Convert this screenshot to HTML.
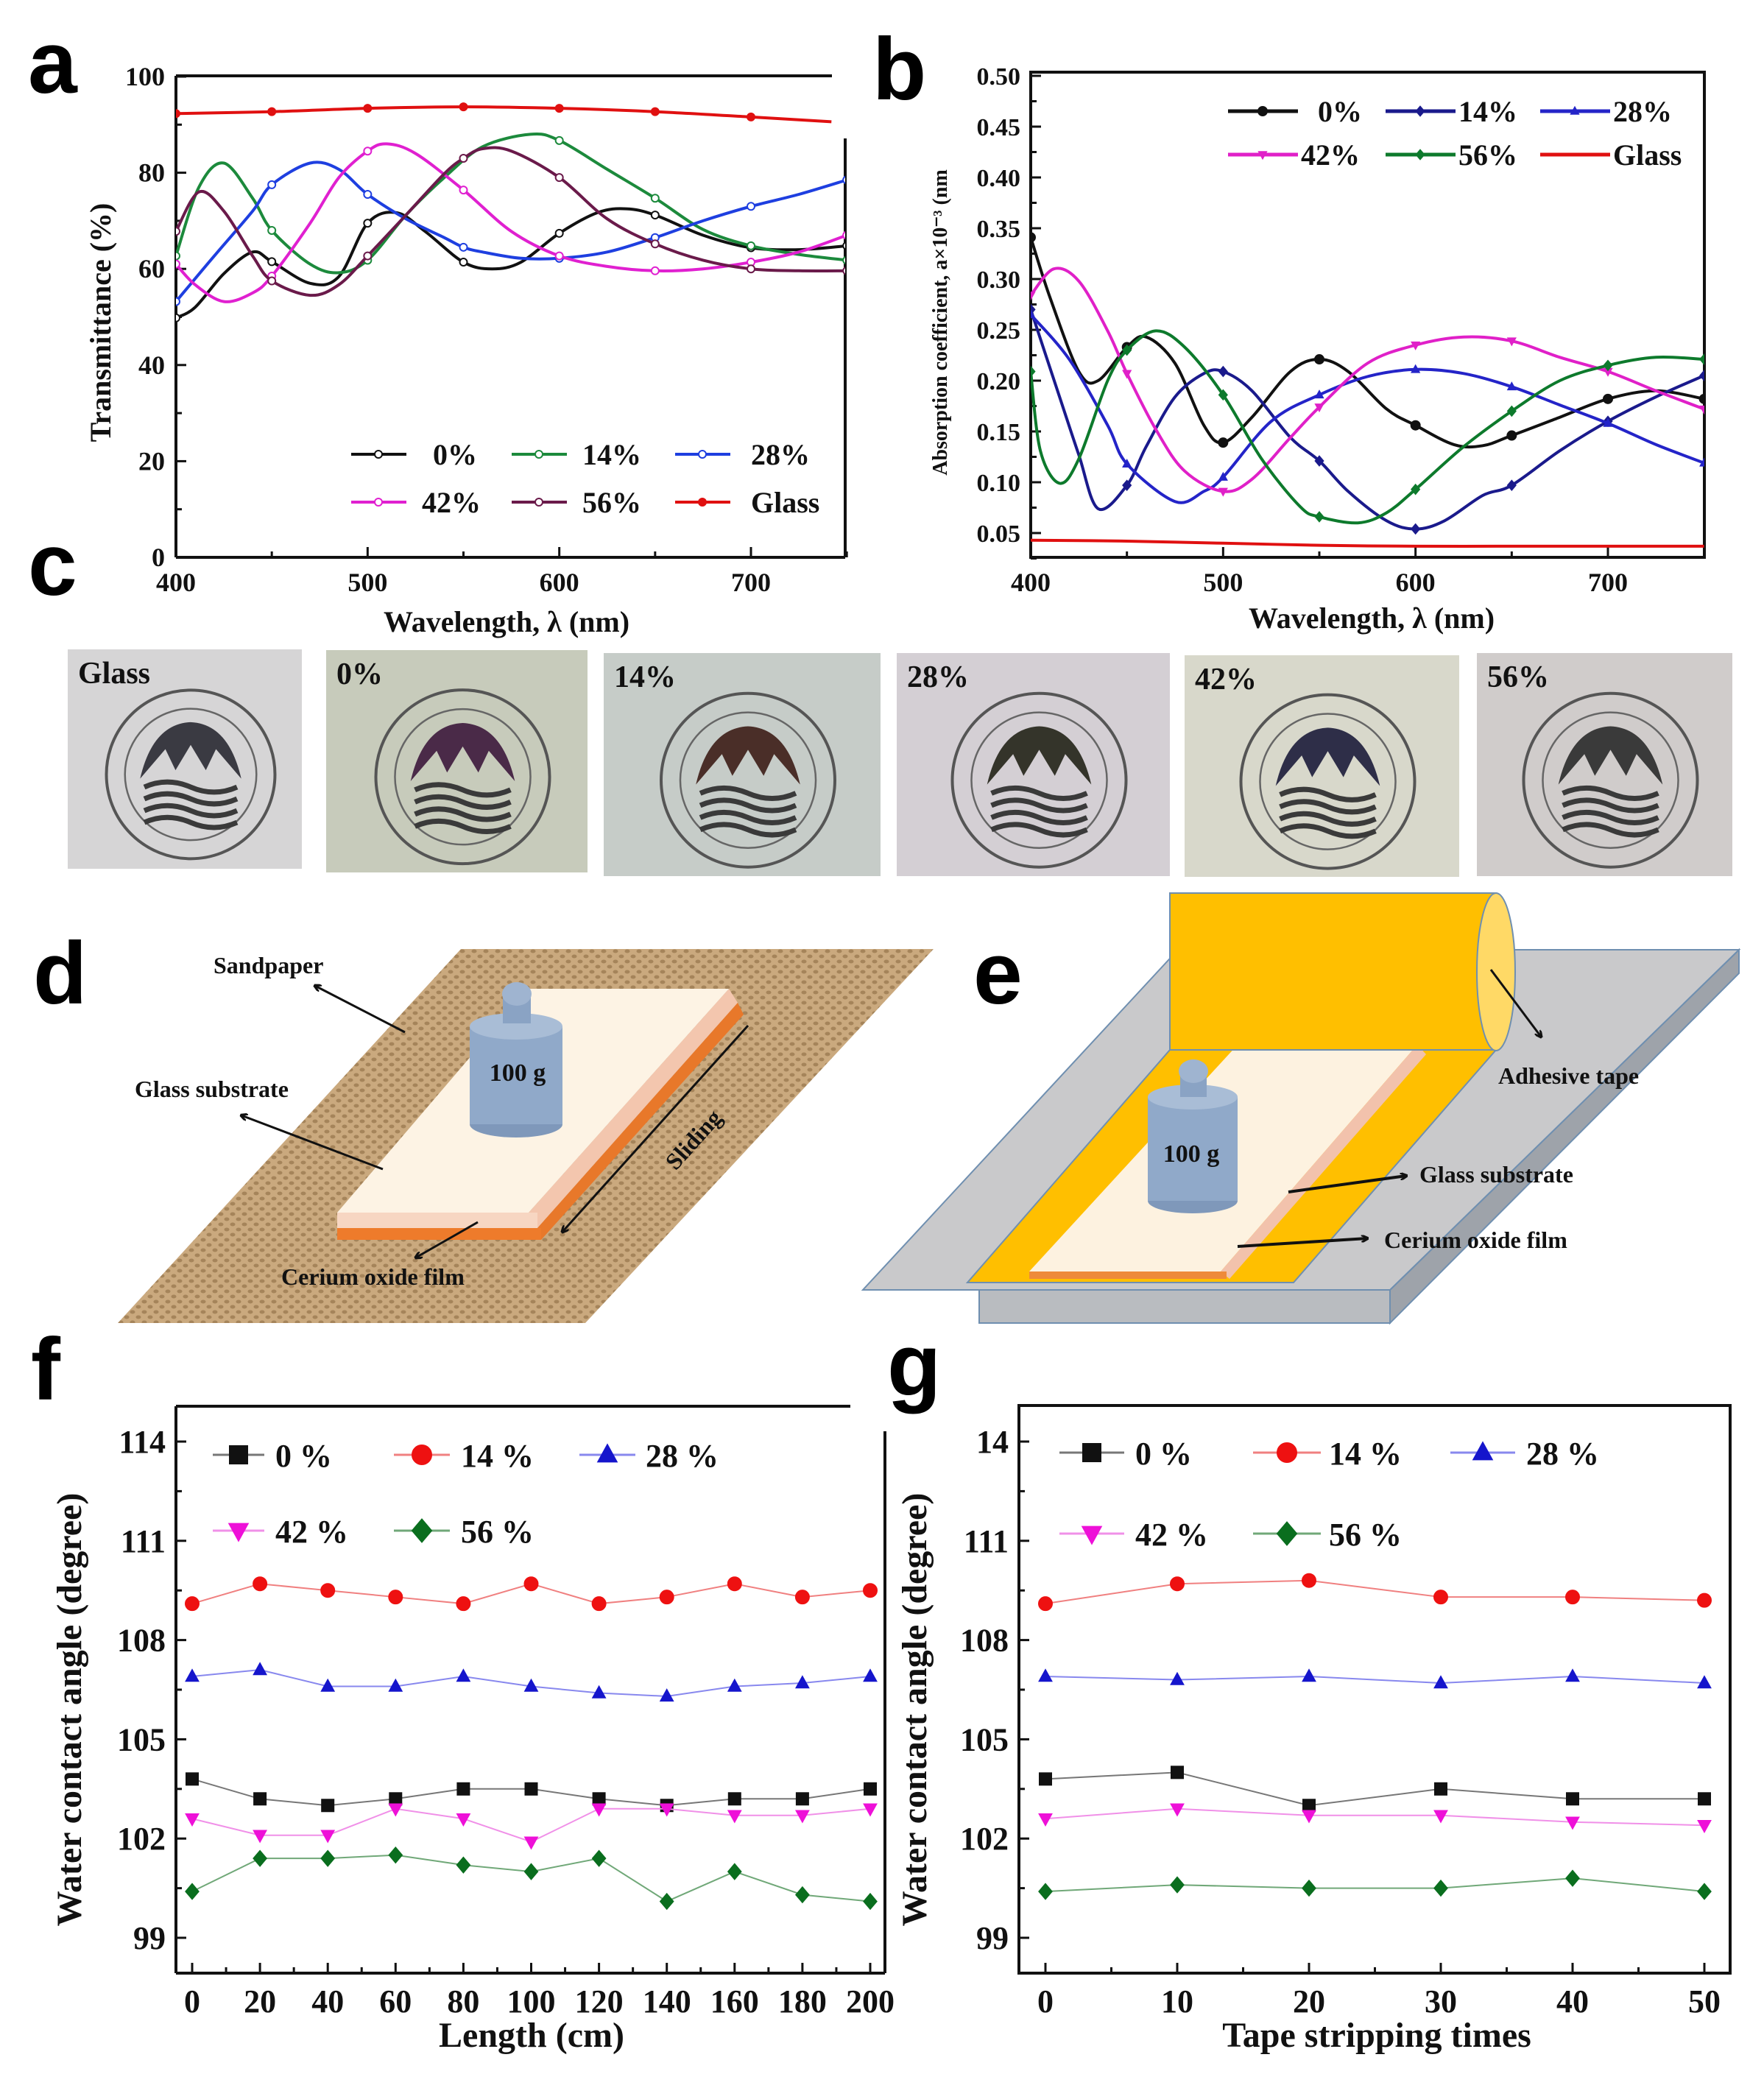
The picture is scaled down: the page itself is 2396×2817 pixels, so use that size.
<!DOCTYPE html>
<html><head><meta charset="utf-8">
<style>
html,body{margin:0;padding:0;background:#fff;}
svg{display:block;}
.pl{font-family:"Liberation Sans",sans-serif;font-size:120px;font-weight:bold;fill:#000;}
.t{font-family:"Liberation Serif",serif;font-weight:bold;fill:#111;}
</style></head>
<body>
<svg id="fig" xmlns="http://www.w3.org/2000/svg" width="2396" height="2817" viewBox="0 0 2396 2817">
<defs>
<pattern id="sand" width="16" height="14" patternUnits="userSpaceOnUse">
<rect width="16" height="14" fill="#caa97e"/>
<ellipse cx="4" cy="4" rx="3.5" ry="2.5" fill="#a5845a"/>
<ellipse cx="12" cy="11" rx="3.5" ry="2.5" fill="#a5845a"/>
</pattern>
<clipPath id="clipA"><rect x="239" y="98" width="909" height="659"/></clipPath>
<clipPath id="clipB"><rect x="1400" y="98" width="915" height="659"/></clipPath>
<marker id="ah" markerWidth="10" markerHeight="10" refX="8" refY="5" orient="auto" markerUnits="userSpaceOnUse"><path d="M0,0 L10,5 L0,10" fill="none" stroke="#111" stroke-width="3"/></marker>
</defs>

<!-- panel letters -->
<text class="pl" x="38" y="126">a</text>
<text class="pl" x="1185" y="135">b</text>
<text class="pl" x="38" y="808">c</text>
<text class="pl" x="45" y="1363">d</text>
<text class="pl" x="1322" y="1363">e</text>
<text class="pl" x="42" y="1901">f</text>
<text class="pl" x="1205" y="1895">g</text>

<g id="photos"></g>

<!-- panel d -->
<g>
<polygon points="626,1289 1268,1289 795,1797 160,1797" fill="url(#sand)"/>
<polygon points="990,1343 1002,1362 730,1668 718,1647" fill="#f3c6ae"/>
<polygon points="1002,1362 1010,1378 735,1684 730,1668" fill="#e8782a"/>
<polygon points="718,1343 990,1343 718,1647 458,1647" fill="#fdf3e4"/>
<rect x="458" y="1647" width="272" height="21" fill="#f7d6c2"/>
<rect x="458" y="1668" width="277" height="16" fill="#ee7b2b"/>
<ellipse cx="701" cy="1527" rx="63" ry="18" fill="#7f98ba"/>
<rect x="638" y="1394" width="126" height="133" fill="#90a9c9"/>
<ellipse cx="701" cy="1394" rx="63" ry="18" fill="#a9bdd6"/>
<rect x="683" y="1350" width="38" height="40" fill="#8aa3c4"/>
<ellipse cx="702" cy="1350" rx="20" ry="16" fill="#9fb4d0"/>
<text class="t" x="703" y="1468" font-size="34" text-anchor="middle">100 g</text>
<line x1="550" y1="1402" x2="428" y2="1339" stroke="#111" stroke-width="3" marker-end="url(#ah)"/>
<line x1="520" y1="1588" x2="328" y2="1515" stroke="#111" stroke-width="3" marker-end="url(#ah)"/>
<line x1="649" y1="1660" x2="565" y2="1708" stroke="#111" stroke-width="3" marker-end="url(#ah)"/>
<line x1="1016" y1="1393" x2="764" y2="1673" stroke="#111" stroke-width="3" marker-end="url(#ah)"/>
<text class="t" x="290" y="1322" font-size="32">Sandpaper</text>
<text class="t" x="183" y="1490" font-size="32">Glass substrate</text>
<text class="t" x="382" y="1745" font-size="32">Cerium oxide film</text>
<text class="t" x="0" y="0" font-size="32" transform="translate(950,1555) rotate(-48)" text-anchor="middle">Sliding</text>
</g>

<!-- panel e -->
<g>
<polygon points="2362,1290 2362,1322 1888,1797 1888,1752" fill="#9ea3aa" stroke="#6f8fb0" stroke-width="2"/>
<rect x="1330" y="1752" width="558" height="45" fill="#b9bcc0" stroke="#6f8fb0" stroke-width="2"/>
<polygon points="1600,1290 2362,1290 1888,1752 1172,1752" fill="#c9c9cb" stroke="#6f8fb0" stroke-width="2"/>
<polygon points="1589,1426 2032,1426 1757,1742 1314,1742" fill="#ffbf00" stroke="#6f8fb0" stroke-width="2"/>
<polygon points="1681,1419 1925,1419 1658,1727 1398,1727" fill="#fdf2e0"/>
<polygon points="1925,1419 1937,1432 1670,1737 1658,1727" fill="#f2c2ac"/>
<rect x="1398" y="1727" width="268" height="10" fill="#ee8a3a"/>
<rect x="1589" y="1213" width="443" height="213" fill="#ffbf00" stroke="#6f8fb0" stroke-width="2"/>
<ellipse cx="2032" cy="1320" rx="26" ry="107" fill="#ffd966" stroke="#6f8fb0" stroke-width="2"/>
<ellipse cx="1620" cy="1631" rx="61" ry="17" fill="#7f98ba"/>
<rect x="1559" y="1490" width="122" height="141" fill="#90a9c9"/>
<ellipse cx="1620" cy="1490" rx="61" ry="17" fill="#a9bdd6"/>
<rect x="1603" y="1455" width="36" height="35" fill="#8aa3c4"/>
<ellipse cx="1621" cy="1455" rx="20" ry="16" fill="#9fb4d0"/>
<text class="t" x="1618" y="1578" font-size="34" text-anchor="middle">100 g</text>
<line x1="2025" y1="1317" x2="2093" y2="1408" stroke="#111" stroke-width="3" marker-end="url(#ah)"/>
<line x1="1750" y1="1619" x2="1910" y2="1597" stroke="#111" stroke-width="4" marker-end="url(#ah)"/>
<line x1="1681" y1="1693" x2="1857" y2="1682" stroke="#111" stroke-width="4" marker-end="url(#ah)"/>
<text class="t" x="2035" y="1472" font-size="32">Adhesive tape</text>
<text class="t" x="1928" y="1606" font-size="32">Glass substrate</text>
<text class="t" x="1880" y="1695" font-size="32">Cerium oxide film</text>
</g>

<g id="chartA"></g>
<g id="chartB"></g>
<g id="chartF"></g>
<g id="chartG"></g>
</svg>

<script>
// ---------- Panel a data ----------
const a0x=[400,410,425,440,450,470,485,500,515,530,550,565,580,600,620,635,650,675,700,725,750];
const a0y=[49.8,52,59,63.5,61.5,57,58.4,69.5,71.7,67.8,61.4,60,61.4,67.4,71.7,72.5,71.2,67,64.4,64,64.8];
const a14x=[400,412,425,440,450,470,485,500,520,540,560,585,600,625,650,675,700,725,750];
const a14y=[62.7,77,82,74.7,68,61,59.2,61.8,71.2,79,85.4,88,86.7,80.7,74.7,68.2,64.8,63,61.8];
const a28x=[400,420,440,450,470,485,500,520,540,550,560,580,600,625,650,675,700,725,750];
const a28y=[53.2,62.7,72,77.5,82,80.7,75.5,70.4,66.5,64.5,63.5,62.2,62.2,63.5,66.5,70,73,75.5,78.5];
const a42x=[400,410,425,440,450,470,485,500,510,525,550,575,600,625,650,675,700,725,750];
const a42y=[61,56.7,53.2,55,58.5,69.5,79,84.5,86,84,76.4,67.8,62.7,60.5,59.6,60,61.4,63.5,67];
const a56x=[400,412,425,440,450,470,485,500,520,540,550,560,575,600,625,650,675,700,725,750];
const a56y=[67.8,76,72,62.7,57.5,54.5,56.7,62.7,71.2,79.8,83,85,84.5,79,70.4,65.2,61.8,60,59.6,59.6];
const aGx=[400,450,500,550,600,650,700,742];
const aGy=[92.3,92.7,93.4,93.7,93.4,92.7,91.6,90.6];
const aYTicks=[0,20,40,60,80,100];
const aXTicks=[400,500,600,700];
// ---------- Panel b data ----------
const b0x=[400,410,425,435,450,460,475,490,500,515,535,550,565,585,600,620,635,650,675,700,725,750];
const b0y=[0.341,0.282,0.209,0.200,0.233,0.243,0.217,0.156,0.139,0.164,0.209,0.221,0.209,0.172,0.156,0.137,0.136,0.146,0.164,0.182,0.190,0.182];
const b14x=[400,415,425,435,450,460,475,490,500,515,535,550,565,585,600,615,635,650,675,700,725,750];
const b14y=[0.270,0.184,0.127,0.074,0.097,0.135,0.184,0.207,0.209,0.190,0.144,0.121,0.091,0.062,0.054,0.062,0.087,0.097,0.131,0.160,0.184,0.205];
const b28x=[400,420,440,450,475,490,500,525,550,575,600,625,650,675,700,725,750];
const b28y=[0.265,0.221,0.156,0.118,0.081,0.091,0.105,0.160,0.186,0.204,0.211,0.207,0.194,0.176,0.158,0.137,0.119];
const b42x=[400,412,425,440,450,465,480,500,515,535,550,575,600,625,650,675,700,725,750];
const b42y=[0.284,0.310,0.298,0.249,0.207,0.152,0.111,0.091,0.103,0.144,0.174,0.217,0.235,0.243,0.239,0.223,0.209,0.190,0.172];
const b56x=[400,405,415,425,440,450,465,480,500,520,540,550,570,585,600,625,650,675,700,725,750];
const b56y=[0.209,0.131,0.099,0.123,0.200,0.230,0.249,0.233,0.186,0.123,0.076,0.066,0.060,0.070,0.093,0.135,0.170,0.200,0.215,0.223,0.221];
const bGx=[400,450,500,550,600,650,700,750];
const bGy=[0.043,0.042,0.040,0.038,0.037,0.037,0.037,0.037];
const bYTicks=[0.05,0.10,0.15,0.20,0.25,0.30,0.35,0.40,0.45,0.50];
const bXTicks=[400,500,600,700];
// ---------- Panel f data ----------
const fX=[0,20,40,60,80,100,120,140,160,180,200];
const f0=[103.8,103.2,103.0,103.2,103.5,103.5,103.2,103.0,103.2,103.2,103.5];
const f14=[109.1,109.7,109.5,109.3,109.1,109.7,109.1,109.3,109.7,109.3,109.5];
const f28=[106.9,107.1,106.6,106.6,106.9,106.6,106.4,106.3,106.6,106.7,106.9];
const f42=[102.6,102.1,102.1,102.9,102.6,101.9,102.9,102.9,102.7,102.7,102.9];
const f56=[100.4,101.4,101.4,101.5,101.2,101.0,101.4,100.1,101.0,100.3,100.1];
// ---------- Panel g data ----------
const gX=[0,10,20,30,40,50];
const g0=[103.8,104.0,103.0,103.5,103.2,103.2];
const g14=[109.1,109.7,109.8,109.3,109.3,109.2];
const g28=[106.9,106.8,106.9,106.7,106.9,106.7];
const g42=[102.6,102.9,102.7,102.7,102.5,102.4];
const g56=[100.4,100.6,100.5,100.5,100.8,100.4];
const wcaYTicks=[99,102,105,108,111,114];
const wcaYLabels=['99','102','105','108','111','114'];

const NS='http://www.w3.org/2000/svg';
function mk(tag,attrs,parent,name){
  const e=document.createElementNS(NS,tag);
  for(const k in attrs) e.setAttribute(k,attrs[k]);
  
  
  parent.appendChild(e);
  return e;
}
function scale(p0,p1,d0,d1){return v=>p0+(v-d0)*(p1-p0)/(d1-d0);}
function smooth(pts){
  let d='M'+pts[0][0].toFixed(1)+','+pts[0][1].toFixed(1);
  for(let i=0;i<pts.length-1;i++){
    const p0=pts[Math.max(0,i-1)],p1=pts[i],p2=pts[i+1],p3=pts[Math.min(pts.length-1,i+2)];
    const c1=[p1[0]+(p2[0]-p0[0])/6,p1[1]+(p2[1]-p0[1])/6];
    const c2=[p2[0]-(p3[0]-p1[0])/6,p2[1]-(p3[1]-p1[1])/6];
    d+=' C'+c1[0].toFixed(1)+','+c1[1].toFixed(1)+' '+c2[0].toFixed(1)+','+c2[1].toFixed(1)+' '+p2[0].toFixed(1)+','+p2[1].toFixed(1);
  }
  return d;
}
function txt(parent,x,y,s,size,anchor,name,extra){
  const t=mk('text',Object.assign({x:x,y:y,'font-size':size,'text-anchor':anchor||'start',class:'t'},extra||{}),parent,name);
  t.textContent=s;return t;
}
function marker(g,shape,x,y,r,fill,stroke,name){
  if(shape==='circle') return mk('circle',{cx:x,cy:y,r:r,fill:fill,stroke:stroke,'stroke-width':2},g,name);
  if(shape==='square') return mk('rect',{x:x-r,y:y-r,width:2*r,height:2*r,fill:fill},g,name);
  if(shape==='up') return mk('polygon',{points:`${x},${y-r*1.2} ${x+r*1.1},${y+r*0.8} ${x-r*1.1},${y+r*0.8}`,fill:fill},g,name);
  if(shape==='down') return mk('polygon',{points:`${x},${y+r*1.2} ${x+r*1.1},${y-r*0.8} ${x-r*1.1},${y-r*0.8}`,fill:fill},g,name);
  if(shape==='diamond') return mk('polygon',{points:`${x},${y-r*1.3} ${x+r*1.1},${y} ${x},${y+r*1.3} ${x-r*1.1},${y}`,fill:fill},g,name);
}

// ---------- Panel A ----------
(function(){
  const g=document.getElementById('chartA');
  const X=scale(239,1020,400,700), Y=scale(757,104,0,100);
  mk('line',{x1:239,y1:757,x2:1148,y2:757,stroke:'#111','stroke-width':4},g,'x-axis');
  mk('line',{x1:239,y1:103,x2:239,y2:757,stroke:'#111','stroke-width':4},g,'y-axis');
  mk('line',{x1:239,y1:103,x2:1130,y2:103,stroke:'#111','stroke-width':4},g,'top-frame');
  mk('line',{x1:1148,y1:188,x2:1148,y2:757,stroke:'#111','stroke-width':4},g,'right-frame');
  for(let v=0;v<=100;v+=10){const y=Y(v);mk('line',{x1:239,y1:y,x2:239+(v%20?8:14),y2:y,stroke:'#111','stroke-width':3},g,'y-tick');}
  aYTicks.forEach(v=>txt(g,224,Y(v)+12,String(v),36,'end','y-tick-label'));
  for(let v=400;v<=750;v+=50){const x=X(v);mk('line',{x1:x,y1:757,x2:x,y2:757-(v%100?8:14),stroke:'#111','stroke-width':3},g,'x-tick');}
  aXTicks.forEach(v=>txt(g,X(v),803,String(v),36,'middle','x-tick-label'));
  txt(g,688,858,'Wavelength, λ (nm)',40,'middle','x-axis-title');
  txt(g,0,0,'Transmittance (%)',40,'middle','y-axis-title',{transform:'translate(150,438) rotate(-90)'});
  const series=[[a0x,a0y,'#111','0%'],[a14x,a14y,'#1c8a3c','14%'],[a28x,a28y,'#1e3fe0','28%'],[a42x,a42y,'#e020d0','42%'],[a56x,a56y,'#6a1a4a','56%'],[aGx,aGy,'#e01010','Glass']];
  const cg=mk('g',{'clip-path':'url(#clipA)'},g,'series-group');
  series.forEach(s=>{
    const pts=s[0].map((x,i)=>[X(x),Y(s[1][i])]);
    mk('path',{d:smooth(pts),fill:'none',stroke:s[2],'stroke-width':4},cg,'line-'+s[3]);
    s[0].forEach((x,i)=>{ if(x%50===0){
      if(s[3]==='Glass') marker(cg,'circle',X(x),Y(s[1][i]),5,s[2],s[2],'point-glass');
      else marker(cg,'circle',X(x),Y(s[1][i]),5,'#fff',s[2],'point-'+s[3]);
    }});
  });
  const leg=[[477,617,'0%',588],[695,617,'14%',791],[917,617,'28%',1020],[477,682,'42%',573],[695,682,'56%',791],[917,682,'Glass',1020]];
  leg.forEach((l,i)=>{
    const s=series[i];
    mk('line',{x1:l[0],y1:l[1],x2:l[0]+75,y2:l[1],stroke:s[2],'stroke-width':4},g,'legend-line');
    marker(g,'circle',l[0]+37,l[1],5,i===5?s[2]:'#fff',s[2],'legend-marker');
    txt(g,l[3],l[1]+14,l[2],40,'start','legend-entry');
  });
})();

// ---------- Panel B ----------
(function(){
  const g=document.getElementById('chartB');
  const X=scale(1400,2184,400,700), Y=scale(724,103,0.05,0.50);
  mk('rect',{x:1400,y:98,width:915,height:659,fill:'none',stroke:'#111','stroke-width':4},g,'plot-frame');
  for(let i=0;i<=19;i++){const v=0.025+i*0.025;const y=Y(v);if(y<100)continue;mk('line',{x1:1400,y1:y,x2:1400+(i%2?14:8),y2:y,stroke:'#111','stroke-width':3},g,'y-tick');}
  bYTicks.forEach(v=>txt(g,1386,Y(v)+12,v.toFixed(2),34,'end','y-tick-label'));
  for(let v=400;v<=750;v+=50){const x=X(v);mk('line',{x1:x,y1:757,x2:x,y2:757-(v%100?8:14),stroke:'#111','stroke-width':3},g,'x-tick');}
  bXTicks.forEach(v=>txt(g,X(v),803,String(v),36,'middle','x-tick-label'));
  txt(g,1863,853,'Wavelength, λ (nm)',40,'middle','x-axis-title');
  txt(g,0,0,'Absorption coefficient, a×10⁻³ (nm',28,'middle','y-axis-title',{transform:'translate(1286,438) rotate(-90)'});
  const series=[[b0x,b0y,'#111','0%','circle'],[b14x,b14y,'#1a1a8c','14%','diamond'],[b28x,b28y,'#2424c8','28%','up'],[b42x,b42y,'#e020c8','42%','down'],[b56x,b56y,'#0d7a2c','56%','diamond'],[bGx,bGy,'#e01010','Glass',null]];
  const cg=mk('g',{'clip-path':'url(#clipB)'},g,'series-group');
  series.forEach(s=>{
    const pts=s[0].map((x,i)=>[X(x),Y(s[1][i])]);
    mk('path',{d:smooth(pts),fill:'none',stroke:s[2],'stroke-width':4},cg,'line-'+s[3]);
    if(s[4]) s[0].forEach((x,i)=>{ if(x%50===0) marker(cg,s[4],X(x),Y(s[1][i]),6,s[2],s[2],'point-'+s[3]); });
  });
  const leg=[[1668,151,1790],[1882,151,1981],[2092,151,2191],[1668,210,1767],[1882,210,1981],[2092,210,2191]];
  leg.forEach((l,i)=>{
    const s=series[i];
    mk('line',{x1:l[0],y1:l[1],x2:l[0]+95,y2:l[1],stroke:s[2],'stroke-width':5},g,'legend-line');
    if(s[4]) marker(g,s[4],l[0]+47,l[1],6,s[2],s[2],'legend-marker');
    txt(g,l[2],l[1]+14,s[3],40,'start','legend-entry');
  });
})();

// ---------- WCA charts ----------
function wca(id,px0,px1,d0,d1,xs,ticks,tickStep,minorStep,framed,title,titleX,yTitleX,series,legPos,ySkip){
  const g=document.getElementById(id);
  const X=scale(px0,px1,d0,d1), Y=scale(2632,1958,99,114);
  const left=framed.left,right=framed.right,top=framed.top,bot=2680;
  if(framed.box){ mk('rect',{x:left,y:top,width:right-left,height:bot-top,fill:'none',stroke:'#111','stroke-width':4},g,'plot-frame'); }
  else{
    mk('line',{x1:left,y1:bot,x2:right,y2:bot,stroke:'#111','stroke-width':4},g,'x-axis');
    mk('line',{x1:left,y1:top,x2:left,y2:bot,stroke:'#111','stroke-width':4},g,'y-axis');
    mk('line',{x1:left,y1:top,x2:framed.topEnd,y2:top,stroke:'#111','stroke-width':4},g,'top-frame');
    mk('line',{x1:right,y1:framed.rightStart,x2:right,y2:bot,stroke:'#111','stroke-width':4},g,'right-frame');
  }
  for(let v=99;v<=115;v+=1.5){const y=Y(v);if(y<top+5)continue;mk('line',{x1:left,y1:y,x2:left+((v-99)%3?8:14),y2:y,stroke:'#111','stroke-width':3},g,'y-tick');}
  wcaYTicks.forEach((v,i)=>txt(g,left-14,Y(v)+15,ySkip&&i===wcaYTicks.length-1?wcaYLabels[i].slice(1):wcaYLabels[i],44,'end','y-tick-label'));
  for(let v=d0<0?0:d0;v<=d1;v+=minorStep){const x=X(v);mk('line',{x1:x,y1:bot,x2:x,y2:bot-((v%tickStep)?8:14),stroke:'#111','stroke-width':3},g,'x-tick');}
  ticks.forEach(v=>txt(g,X(v),2733,String(v),44,'middle','x-tick-label'));
  txt(g,titleX,2780,title,48,'middle','x-axis-title');
  txt(g,0,0,'Water contact angle (degree)',48,'middle','y-axis-title',{transform:`translate(${yTitleX},2322) rotate(-90)`});
  series.forEach(s=>{
    const pts=xs.map((x,i)=>X(x)+','+Y(s[0][i]));
    mk('polyline',{points:pts.join(' '),fill:'none',stroke:s[2],'stroke-width':2},g,'line-'+s[3]);
    xs.forEach((x,i)=>marker(g,s[4],X(x),Y(s[0][i]),9,s[1],s[1],'point-'+s[3]));
  });
  legPos.forEach((l,i)=>{
    const s=series[i];
    mk('line',{x1:l[0],y1:l[1],x2:l[2],y2:l[1],stroke:s[2],'stroke-width':3},g,'legend-line');
    marker(g,s[4],(l[0]+l[2])/2,l[1],13,s[1],s[1],'legend-marker');
    txt(g,l[3],l[1]+16,s[3],44,'start','legend-entry');
  });
}
const wcaSeriesF=[[f0,'#111','#777','0 %','square'],[f14,'#ee1111','#f08080','14 %','circle'],[f28,'#1515cc','#8888ee','28 %','up'],[f42,'#ee10d8','#f090e8','42 %','down'],[f56,'#0a6e1e','#70a878','56 %','diamond']];
const wcaSeriesG=[[g0,'#111','#777','0 %','square'],[g14,'#ee1111','#f08080','14 %','circle'],[g28,'#1515cc','#8888ee','28 %','up'],[g42,'#ee10d8','#f090e8','42 %','down'],[g56,'#0a6e1e','#70a878','56 %','diamond']];
wca('chartF',261,1182,0,200,fX,fX,20,10,{left:239,right:1202,top:1910,topEnd:1155,rightStart:1944},'Length (cm)',722,110,wcaSeriesF,
  [[289,1976,359,374],[535,1976,611,626],[787,1976,863,877],[289,2079,359,374],[535,2079,611,626]],false);
wca('chartG',1420,2315,0,50,gX,gX,10,5,{box:true,left:1384,right:2350,top:1909},'Tape stripping times',1870,1258,wcaSeriesG,
  [[1439,1973,1527,1542],[1702,1973,1794,1805],[1970,1973,2058,2073],[1439,2083,1527,1542],[1702,2083,1794,1805]],true);

// ---------- Photo row ----------
(function(){
  const g=document.getElementById('photos');
  const photos=[[92,882,318,298,'#d6d5d6','Glass','#3a3a42'],[443,883,355,302,'#c7cbbb','0%','#4a2a48'],[820,887,376,303,'#c6ccc8','14%','#4a2e28'],[1218,887,371,303,'#d4cfd4','28%','#34342a'],[1609,890,373,301,'#d8d8cb','42%','#2e2e48'],[2006,887,347,303,'#d0cccb','56%','#3a3a3a']];
  photos.forEach(p=>{
    const pg=mk('g',{},g,'photo-'+p[5]);
    mk('rect',{x:p[0],y:p[1],width:p[2],height:p[3],fill:p[4]},pg,'photo-background');
    const cx=p[0]+p[2]/2+8, cy=p[1]+p[3]*0.57, r=Math.min(p[2]*0.36,118);
    mk('ellipse',{cx:cx,cy:cy,rx:r,ry:r*1.0,fill:'none',stroke:'#555','stroke-width':4},pg,'logo-ring');
    mk('ellipse',{cx:cx,cy:cy,rx:r*0.78,ry:r*0.78,fill:'none',stroke:'#666','stroke-width':2.5},pg,'logo-inner-ring');
    mk('path',{d:`M${cx-r*0.6},${cy+r*0.05} Q${cx-r*0.45},${cy-r*0.6} ${cx},${cy-r*0.62} Q${cx+r*0.45},${cy-r*0.6} ${cx+r*0.6},${cy+r*0.05} L${cx+r*0.3},${cy-r*0.3} L${cx+r*0.18},${cy-r*0.05} L${cx},${cy-r*0.35} L${cx-r*0.18},${cy-r*0.05} L${cx-r*0.3},${cy-r*0.3} Z`,fill:p[6]},pg,'logo-mountain');
    for(let k=0;k<4;k++){
      const yy=cy+r*(0.15+k*0.14);
      mk('path',{d:`M${cx-r*0.55},${yy} Q${cx-r*0.28},${yy-r*0.12} ${cx},${yy} T${cx+r*0.55},${yy}`,fill:'none',stroke:'#3a3a3a','stroke-width':7},pg,'logo-wave');
    }
    txt(pg,p[0]+14,p[1]+46,p[5],42,'start','photo-label',{fill:'#111'});
  });
})();
</script>
</body></html>
